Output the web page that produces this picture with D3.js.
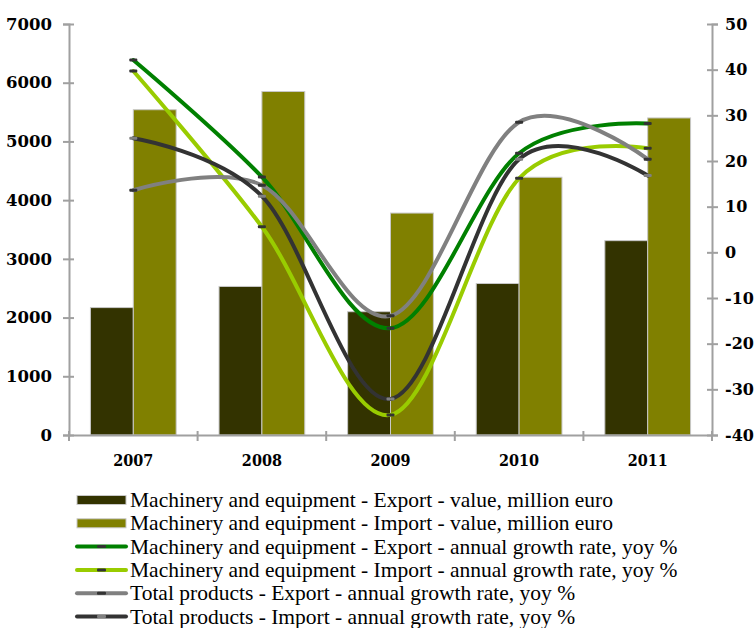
<!DOCTYPE html>
<html>
<head>
<meta charset="utf-8">
<script src="https://cdn.jsdelivr.net/npm/d3@7"></script>
<style>
  body { margin: 0; background: #fff; }
  text { font-family: "Liberation Serif", "DejaVu Serif", serif; fill: #000; }
</style>
</head>
<body>
<svg id="chart" width="756" height="628"></svg>
<script>
const years = ["2007", "2008", "2009", "2010", "2011"];

// bars, million euro (left axis)
const meExportValue = [2170, 2530, 2100, 2580, 3310];
const meImportValue = [5540, 5850, 3780, 4390, 5400];

// lines, yoy % (right axis)
const meExportGrowth = [42.1, 16.5, -16.6, 21.7, 28.2];
const meImportGrowth = [39.7, 5.6, -35.6, 16.2, 22.8];
const totalExportGrowth = [13.6, 14.7, -13.9, 28.5, 20.4];
const totalImportGrowth = [25.0, 12.3, -32.1, 20.4, 16.8];

const leftTicks = [0, 1000, 2000, 3000, 4000, 5000, 6000, 7000];
const rightTicks = [-40, -30, -20, -10, 0, 10, 20, 30, 40, 50];

const barSeries = [
  { name: "Machinery and equipment - Export - value, million euro", values: meExportValue, color: "#333300" },
  { name: "Machinery and equipment - Import - value, million euro", values: meImportValue, color: "#808000" }
];
const lineSeries = [
  { name: "Machinery and equipment - Export - annual growth rate, yoy %", values: meExportGrowth, color: "#008000", marker: "#333333" },
  { name: "Machinery and equipment - Import - annual growth rate, yoy %", values: meImportGrowth, color: "#99cc00", marker: "#333333" },
  { name: "Total products - Export - annual growth rate, yoy %", values: totalExportGrowth, color: "#808080", marker: "#333333" },
  { name: "Total products - Import - annual growth rate, yoy %", values: totalImportGrowth, color: "#333333", marker: "#808080" }
];

const svg = d3.select("#chart");
const plotLeft = 69, plotRight = 712, plotTop = 24, plotBottom = 435;
const axisColor = "#a0a0a0";

const x = d3.scaleBand().domain(years).range([plotLeft, plotRight]).paddingInner(0).paddingOuter(0);
const xIn = d3.scaleBand().domain([0, 1]).range([0, x.bandwidth()]).paddingOuter(0.5).paddingInner(0);
const yL = d3.scaleLinear().domain([0, 7000]).range([plotBottom, plotTop]);
const yR = d3.scaleLinear().domain([-40, 50]).range([plotBottom, plotTop]);

// bars
barSeries.forEach((s, i) => {
  svg.append("g").selectAll("rect")
    .data(s.values)
    .enter().append("rect")
    .attr("x", (d, j) => x(years[j]) + xIn(i))
    .attr("y", d => yL(d))
    .attr("width", xIn.bandwidth())
    .attr("height", d => plotBottom - yL(d))
    .attr("fill", s.color)
    .attr("stroke", "#c8c8c8")
    .attr("stroke-width", 1);
});

// axes (plain hyphen for negatives, as in the original)
const plainNum = d => String(d);
const axisL = svg.append("g").attr("transform", `translate(${plotLeft},0)`)
  .call(d3.axisLeft(yL).tickValues(leftTicks).tickSize(6).tickPadding(11).tickFormat(plainNum));
const axisR = svg.append("g").attr("transform", `translate(${plotRight},0)`)
  .call(d3.axisRight(yR).tickValues(rightTicks).tickSize(6).tickPadding(7).tickFormat(plainNum));
const axisX = svg.append("g").attr("transform", `translate(0,${plotBottom})`)
  .call(d3.axisBottom(x).tickSize(0).tickPadding(20));

[axisL, axisR, axisX].forEach(g => {
  g.select(".domain").attr("stroke", axisColor).attr("stroke-width", 2);
  g.selectAll(".tick line").attr("stroke", axisColor).attr("stroke-width", 2);
  g.selectAll("text").style("font-family", "'DejaVu Serif'").style("font-size", "16.5px").style("font-weight", "bold");
});
axisR.selectAll("text").style("font-size", "16px");
axisX.selectAll("text").style("font-family", "'DejaVu Serif Condensed'").style("font-size", "16px");
axisL.selectAll(".tick line").attr("x1", 5);
axisR.selectAll(".tick line").attr("x1", -5);

// x ticks at band boundaries
svg.append("g").selectAll("line")
  .data(years.concat(["end"]))
  .enter().append("line")
  .attr("x1", (d, i) => i < years.length ? x(d) : plotRight)
  .attr("x2", (d, i) => i < years.length ? x(d) : plotRight)
  .attr("y1", plotBottom - 4)
  .attr("y2", plotBottom + 6)
  .attr("stroke", axisColor)
  .attr("stroke-width", 2);

// lines (smoothed like the spreadsheet chart)
const line = d3.line()
  .x((d, i) => x(years[i]) + x.bandwidth() / 2)
  .y(d => yR(d))
  .curve(d3.curveCardinal.tension(0));

lineSeries.forEach(s => {
  svg.append("path")
    .datum(s.values)
    .attr("d", line)
    .attr("fill", "none")
    .attr("stroke", s.color)
    .attr("stroke-width", 4)
    .attr("stroke-linecap", "round");
});
lineSeries.forEach(s => {
  svg.append("g").selectAll("rect")
    .data(s.values)
    .enter().append("rect")
    .attr("x", (d, i) => x(years[i]) + x.bandwidth() / 2 - 4)
    .attr("y", d => yR(d) - 1.5)
    .attr("width", 8)
    .attr("height", 3)
    .attr("rx", 1)
    .attr("fill", s.marker);
});

// legend
const legend = svg.append("g").attr("transform", "translate(77,500)");
const rowH = 23.3;
barSeries.forEach((s, i) => {
  const g = legend.append("g").attr("transform", `translate(0,${i * rowH})`);
  g.append("rect").attr("x", 0).attr("y", -4.5).attr("width", 49).attr("height", 9)
    .attr("fill", s.color).attr("stroke", "#c8c8c8").attr("stroke-width", 1);
  g.append("text").attr("x", 53).attr("y", 7).style("font-size", "21.5px").text(s.name);
});
lineSeries.forEach((s, i) => {
  const g = legend.append("g").attr("transform", `translate(0,${(i + 2) * rowH})`);
  g.append("line").attr("x1", 0).attr("x2", 49).attr("y1", 0).attr("y2", 0)
    .attr("stroke", s.color).attr("stroke-width", 4).attr("stroke-linecap", "round");
  g.append("rect").attr("x", 20).attr("y", -1.5).attr("width", 9).attr("height", 3).attr("rx", 1).attr("fill", s.marker);
  g.append("text").attr("x", 53).attr("y", 7).style("font-size", "21.5px").text(s.name);
});
</script>
</body>
</html>
